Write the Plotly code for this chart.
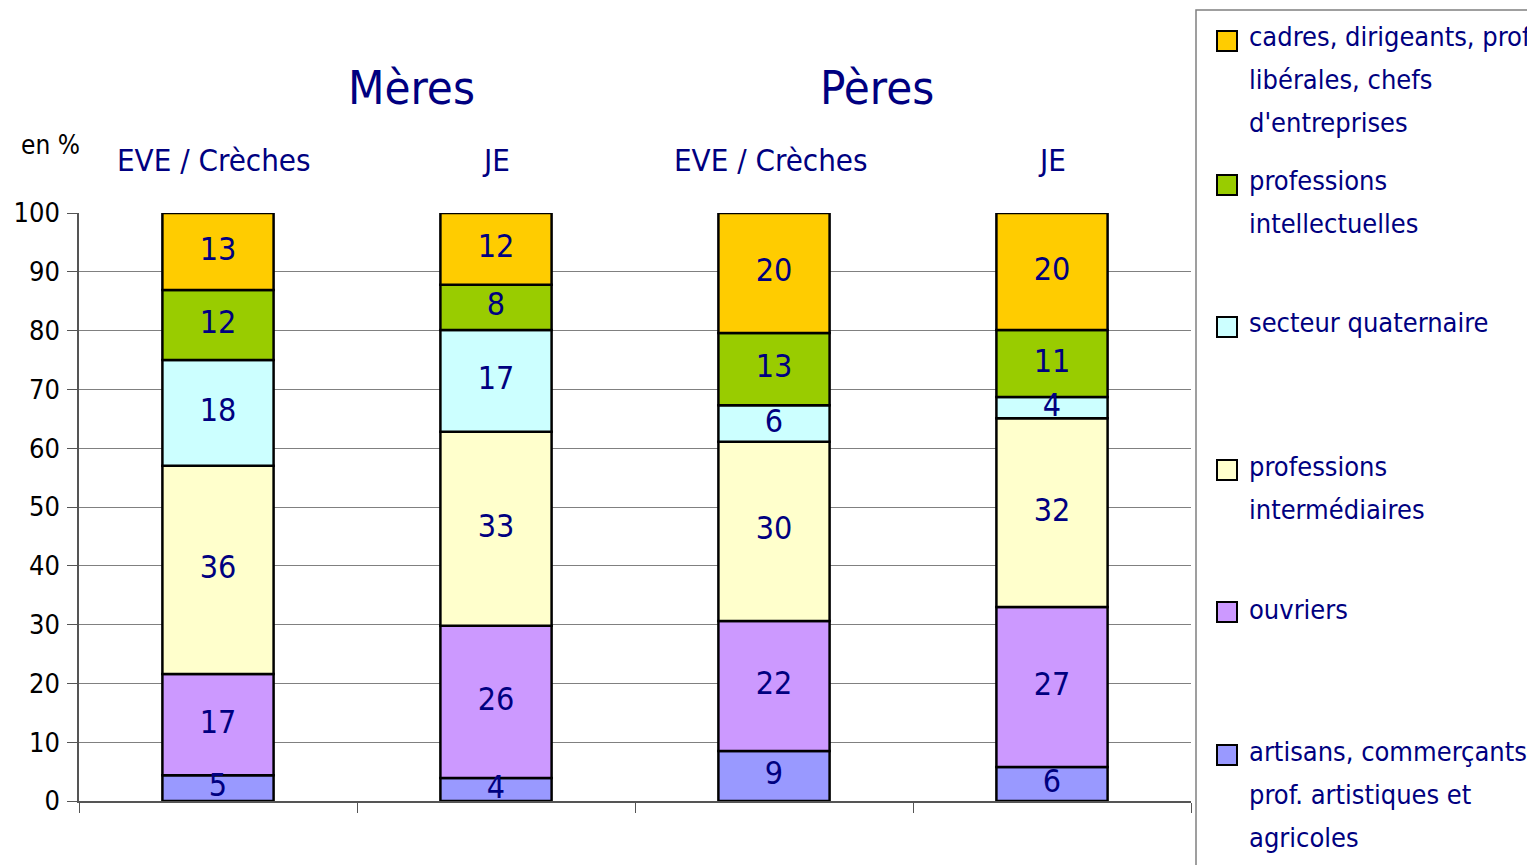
import plotly.graph_objects as go

categories = ["EVE / Crèches", "JE", "EVE / Crèches", "JE"]
groups = ["Mères", "Pères"]

series_names = [
    "artisans, commerçants,<br>prof. artistiques et<br>agricoles",
    "ouvriers",
    "professions<br>intermédiaires",
    "secteur quaternaire",
    "professions<br>intellectuelles",
    "cadres, dirigeants, prof.<br>libérales, chefs<br>d'entreprises",
]
artisans = [4.4, 3.9, 8.5, 5.8]
ouvriers = [17.2, 25.9, 22.1, 27.2]
intermediaires = [35.4, 33.0, 30.5, 32.1]
quaternaire = [18.0, 17.3, 6.2, 3.6]
intellectuelles = [11.9, 7.7, 12.3, 11.4]
cadres = [13.1, 12.2, 20.4, 19.9]

lab_artisans = [5, 4, 9, 6]
lab_ouvriers = [17, 26, 22, 27]
lab_intermediaires = [36, 33, 30, 32]
lab_quaternaire = [18, 17, 6, 4]
lab_intellectuelles = [12, 8, 13, 11]
lab_cadres = [13, 12, 20, 20]

y_ticks = [0, 10, 20, 30, 40, 50, 60, 70, 80, 90, 100]

values = [artisans, ouvriers, intermediaires, quaternaire, intellectuelles, cadres]
labels = [lab_artisans, lab_ouvriers, lab_intermediaires, lab_quaternaire,
          lab_intellectuelles, lab_cadres]
colors = ["#9999FF", "#CC99FF", "#FFFFCC", "#CCFFFF", "#99CC00", "#FFCC00"]

FONT = "Liberation Sans Narrow, Arial Narrow, DejaVu Sans Condensed, Liberation Sans, sans-serif"
NAVY = "#000080"

OFF = 8  # page body margin
W, H = 1535 - OFF, 865 - OFF
L, R, T, B = 79, 1191, 213, 801  # target window pixels of plot area

def px2x(px):
    return (px - L) / (R - L)

def py2y(py):
    return (B - py) / (B - T)

xs = list(range(len(categories)))
fig = go.Figure()
base = [0.0] * len(categories)
for vals, labs, col, name in zip(values, labels, colors, series_names):
    fig.add_trace(go.Bar(
        x=xs, y=vals, base=base[:], width=0.4,
        marker=dict(color=col, line=dict(color="black", width=2.5)),
        name=name, showlegend=False, hoverinfo="skip",
    ))
    mids = [b + v / 2 for b, v in zip(base, vals)]
    fig.add_trace(go.Scatter(
        x=xs, y=mids, mode="text", text=[str(l) for l in labs],
        textfont=dict(family=FONT, size=32, color=NAVY), textposition="middle center",
        showlegend=False, hoverinfo="skip",
    ))
    base = [b + v for b, v in zip(base, vals)]

fig.update_layout(
    width=W, height=H,
    margin=dict(l=L - OFF, r=W - (R - OFF), t=T - OFF, b=H - (B - OFF), pad=0,
                autoexpand=False),
    plot_bgcolor="white", paper_bgcolor="white", barmode="overlay",
    font=dict(family=FONT, color="black"),
    xaxis=dict(range=[-0.5, len(categories) - 0.5], automargin=False,
               tickvals=[i - 0.5 for i in range(len(categories) + 1)],
               ticktext=[""] * (len(categories) + 1), ticks="outside", ticklen=10,
               tickcolor="#555555", showgrid=False, showline=True, linecolor="#555555",
               linewidth=1.5, zeroline=False),
    yaxis=dict(range=[0, 100], tickvals=y_ticks, ticks="outside", ticklen=10, tickcolor="#555555",
               automargin=False, showgrid=True, gridcolor="#808080", gridwidth=1.2, showline=True,
               linecolor="#555555", linewidth=1.5, zeroline=False,
               tickfont=dict(family=FONT, size=27, color="black"), ticklabelstandoff=2),
)

annotations = []
annotations.append(dict(x=px2x(411), y=py2y(88), xref="paper", yref="paper", text=groups[0],
                        xanchor="center", yanchor="middle", showarrow=False,
                        font=dict(family=FONT, size=47, color=NAVY)))
annotations.append(dict(x=px2x(877), y=py2y(88), xref="paper", yref="paper", text=groups[1],
                        xanchor="center", yanchor="middle", showarrow=False,
                        font=dict(family=FONT, size=47, color=NAVY)))
cat_px = [214, 496, 771, 1052]
for c, cx in zip(categories, cat_px):
    annotations.append(dict(x=px2x(cx), y=py2y(160), xref="paper", yref="paper", text=c,
                            xanchor="center", yanchor="middle", showarrow=False,
                            font=dict(family=FONT, size=31, color=NAVY)))
annotations.append(dict(x=px2x(50), y=py2y(145), xref="paper", yref="paper", text="en %",
                        xanchor="center", yanchor="middle", showarrow=False,
                        font=dict(family=FONT, size=26, color="black")))

# custom legend (top to bottom: cadres ... artisans)
legend_rows = [
    (5, 41, [37, 80, 123]),
    (4, 185, [181, 224]),
    (3, 327, [322]),
    (2, 470, [466, 509]),
    (1, 612, [609]),
    (0, 755, [751, 794, 837]),
]
shapes = [dict(type="rect", xref="paper", yref="paper", x0=px2x(1196), x1=px2x(1560),
               y0=py2y(10), y1=py2y(890), line=dict(color="#808080", width=1.5),
               fillcolor="rgba(0,0,0,0)")]
for idx, my, lines in legend_rows:
    shapes.append(dict(type="rect", xref="paper", yref="paper", x0=px2x(1217), x1=px2x(1237),
                       y0=py2y(my + 10), y1=py2y(my - 10), fillcolor=colors[idx],
                       line=dict(color="black", width=2)))
    for line_text, ly in zip(series_names[idx].split("<br>"), lines):
        annotations.append(dict(x=px2x(1247), y=py2y(ly), xref="paper", yref="paper",
                                text=line_text, xanchor="left", yanchor="middle",
                                showarrow=False, font=dict(family=FONT, size=27, color=NAVY)))

fig.update_layout(annotations=annotations, shapes=shapes)
fig.write_html("out.html")
